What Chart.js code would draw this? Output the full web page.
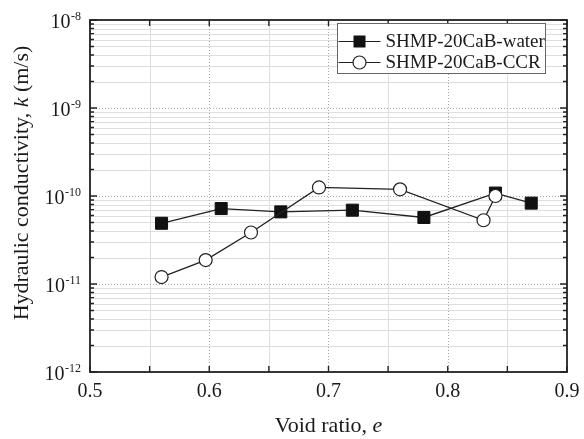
<!DOCTYPE html>
<html>
<head>
<meta charset="utf-8">
<script src="https://cdn.jsdelivr.net/npm/chart.js@4.4.0/dist/chart.umd.min.js"></script>
<style>
html, body { margin: 0; padding: 0; background: #fff; }
</style>
</head>
<body>
<canvas id="grafica" width="584" height="439"></canvas>
<script>
// datos
const nombreAgua = 'SHMP-20CaB-water';
const nombreCCR = 'SHMP-20CaB-CCR';
const eAgua = [0.56, 0.61, 0.66, 0.72, 0.78, 0.84, 0.87];
const kAgua = [4.9e-11, 7.2e-11, 6.6e-11, 6.9e-11, 5.7e-11, 1.08e-10, 8.3e-11];
const eCCR = [0.56, 0.597, 0.635, 0.692, 0.76, 0.83, 0.84];
const kCCR = [1.2e-11, 1.87e-11, 3.85e-11, 1.25e-10, 1.19e-10, 5.3e-11, 1.0e-10];
const xTicks = [0.5, 0.6, 0.7, 0.8, 0.9];
const xMinor = [0.55, 0.65, 0.75, 0.85];
const yExpo = [-12, -11, -10, -9, -8];
const tituloX = ['Void ratio, ', 'e'];
const tituloY = ['Hydraulic conductivity, ', 'k', ' (m/s)'];

const serif = '"Liberation Serif", "Times New Roman", serif';
const tinta = '#1a1a1a';

function puntos(xs, ys) {
  return xs.map((x, i) => ({ x: x, y: ys[i] }));
}

// texto con partes normales / cursiva (las partes impares van en cursiva)
function textoMixto(ctx, partes, size, cx, cy) {
  let anchos = partes.map((p, i) => {
    ctx.font = (i % 2 ? 'italic ' : '') + size + 'px ' + serif;
    return ctx.measureText(p).width;
  });
  let total = anchos.reduce((a, b) => a + b, 0);
  let x = cx - total / 2;
  partes.forEach((p, i) => {
    ctx.font = (i % 2 ? 'italic ' : '') + size + 'px ' + serif;
    ctx.fillText(p, x, cy);
    x += anchos[i];
  });
}

const ejesPlugin = {
  id: 'ejes',
  beforeDatasetsDraw(chart) {
    const ctx = chart.ctx;
    const a = chart.chartArea;
    const sx = chart.scales.x, sy = chart.scales.y;
    ctx.save();
    // rejilla menor
    ctx.strokeStyle = '#dedede';
    ctx.lineWidth = 1;
    ctx.beginPath();
    xMinor.forEach(v => {
      let px = Math.round(sx.getPixelForValue(v)) + 0.5;
      ctx.moveTo(px, a.top); ctx.lineTo(px, a.bottom);
    });
    for (let e = yExpo[0]; e < yExpo[yExpo.length - 1]; e++) {
      for (let m = 2; m <= 9; m++) {
        let py = Math.round(sy.getPixelForValue(m * Math.pow(10, e))) + 0.5;
        ctx.moveTo(a.left, py); ctx.lineTo(a.right, py);
      }
    }
    ctx.stroke();
    // rejilla mayor punteada
    ctx.strokeStyle = '#a8a8a8';
    ctx.setLineDash([1, 2]);
    ctx.beginPath();
    xTicks.slice(1, -1).forEach(v => {
      let px = Math.round(sx.getPixelForValue(v)) + 0.5;
      ctx.moveTo(px, a.top); ctx.lineTo(px, a.bottom);
    });
    yExpo.slice(1, -1).forEach(e => {
      let py = Math.round(sy.getPixelForValue(Math.pow(10, e))) + 0.5;
      ctx.moveTo(a.left, py); ctx.lineTo(a.right, py);
    });
    ctx.stroke();
    ctx.restore();
  },
  afterDatasetsDraw(chart) {
    const ctx = chart.ctx;
    const a = chart.chartArea;
    const sx = chart.scales.x, sy = chart.scales.y;
    ctx.save();
    // marco
    ctx.strokeStyle = '#222';
    ctx.lineWidth = 1.8;
    ctx.strokeRect(a.left, a.top, a.right - a.left, a.bottom - a.top);
    // marcas hacia adentro
    ctx.lineWidth = 1.4;
    ctx.beginPath();
    xTicks.concat(xMinor).forEach(v => {
      let px = sx.getPixelForValue(v);
      ctx.moveTo(px, a.bottom); ctx.lineTo(px, a.bottom - 6);
      ctx.moveTo(px, a.top); ctx.lineTo(px, a.top + 6);
    });
    yExpo.forEach(e => {
      let py = sy.getPixelForValue(Math.pow(10, e));
      ctx.moveTo(a.left, py); ctx.lineTo(a.left + 7, py);
      ctx.moveTo(a.right, py); ctx.lineTo(a.right - 7, py);
    });
    for (let e = yExpo[0]; e < yExpo[yExpo.length - 1]; e++) {
      for (let m = 2; m <= 9; m++) {
        let py = sy.getPixelForValue(m * Math.pow(10, e));
        ctx.moveTo(a.left, py); ctx.lineTo(a.left + 4, py);
        ctx.moveTo(a.right, py); ctx.lineTo(a.right - 4, py);
      }
    }
    ctx.stroke();

    // etiquetas eje x
    ctx.fillStyle = tinta;
    ctx.font = '20px ' + serif;
    ctx.textAlign = 'center';
    ctx.textBaseline = 'alphabetic';
    xTicks.forEach(v => {
      ctx.fillText(v.toFixed(1), sx.getPixelForValue(v), a.bottom + 25);
    });
    // etiquetas eje y: 10 con exponente
    yExpo.forEach(e => {
      let py = sy.getPixelForValue(Math.pow(10, e));
      let exp = String(e);
      ctx.font = '12px ' + serif;
      let w = ctx.measureText(exp).width;
      ctx.textAlign = 'left';
      ctx.fillText(exp, a.left - 9 - w, py);
      ctx.font = '20px ' + serif;
      ctx.textAlign = 'right';
      ctx.fillText('10', a.left - 9.5 - w, py + 8);
    });
    // titulos
    ctx.textAlign = 'left';
    textoMixto(ctx, tituloX, 22, (a.left + a.right) / 2, a.bottom + 60);
    ctx.translate(22, 183);
    ctx.rotate(-Math.PI / 2);
    ctx.textBaseline = 'middle';
    textoMixto(ctx, tituloY, 22, 0, 0);
    ctx.restore();

    // leyenda
    ctx.save();
    let lx = a.right - 229.5, ly = a.top + 3.5;
    ctx.fillStyle = '#fff';
    ctx.fillRect(lx, ly, 208, 50);
    ctx.strokeStyle = '#666';
    ctx.lineWidth = 1;
    ctx.strokeRect(lx, ly, 208, 50);
    let filas = [
      { t: nombreAgua, y: ly + 18, tipo: 'rect' },
      { t: nombreCCR, y: ly + 39, tipo: 'circle' }
    ];
    filas.forEach(f => {
      ctx.strokeStyle = '#222';
      ctx.lineWidth = 1.2;
      ctx.beginPath();
      ctx.moveTo(lx + 1, f.y); ctx.lineTo(lx + 43, f.y);
      ctx.stroke();
      let mx = lx + 22;
      if (f.tipo === 'rect') {
        ctx.fillStyle = '#111';
        ctx.fillRect(mx - 6, f.y - 6, 12, 12);
      } else {
        ctx.fillStyle = '#fff';
        ctx.beginPath();
        ctx.arc(mx, f.y, 6.5, 0, Math.PI * 2);
        ctx.fill();
        ctx.stroke();
      }
      ctx.fillStyle = tinta;
      ctx.font = '19px ' + serif;
      ctx.textAlign = 'left';
      ctx.textBaseline = 'middle';
      ctx.fillText(f.t, lx + 48, f.y + 1);
    });
    ctx.restore();
  }
};

const grafica = new Chart(document.getElementById('grafica').getContext('2d'), {
  type: 'scatter',
  data: {
    datasets: [{
      label: nombreAgua,
      data: puntos(eAgua, kAgua),
      showLine: true,
      borderColor: '#222',
      borderWidth: 1.3,
      pointStyle: 'rect',
      pointRadius: 8.5,
      pointBackgroundColor: '#111',
      pointBorderColor: '#111',
      pointBorderWidth: 1,
      order: 1
    }, {
      label: nombreCCR,
      data: puntos(eCCR, kCCR),
      showLine: true,
      borderColor: '#222',
      borderWidth: 1.3,
      pointStyle: 'circle',
      pointRadius: 6.5,
      pointBackgroundColor: '#fff',
      pointBorderColor: '#222',
      pointBorderWidth: 1.2,
      order: 0
    }]
  },
  options: {
    responsive: false,
    animation: false,
    devicePixelRatio: 1,
    layout: { padding: { top: 20, right: 17, left: 0, bottom: 0 } },
    plugins: {
      legend: { display: false },
      tooltip: { enabled: false }
    },
    scales: {
      x: {
        type: 'linear',
        min: 0.5,
        max: 0.9,
        grid: { display: false, drawTicks: false },
        border: { display: false },
        ticks: { display: false },
        afterFit: s => { s.height = 67; }
      },
      y: {
        type: 'logarithmic',
        min: 1e-12,
        max: 1e-8,
        grid: { display: false, drawTicks: false },
        border: { display: false },
        ticks: { display: false },
        afterFit: s => { s.width = 90; }
      }
    }
  },
  plugins: [ejesPlugin]
});
</script>
</body>
</html>
